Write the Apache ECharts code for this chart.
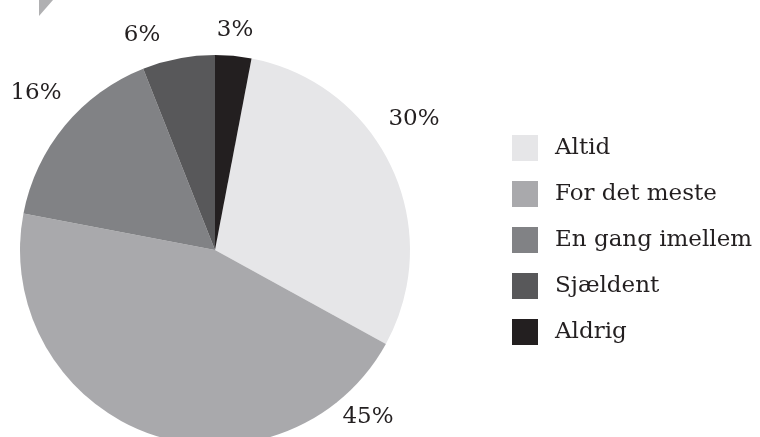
<!DOCTYPE html>
<html>
<head>
<meta charset="utf-8">
<script src="https://cdn.jsdelivr.net/npm/echarts@6/dist/echarts.min.js"></script>
<style>
  html, body { margin: 0; padding: 0; background: #fff; }
  #main { width: 760px; height: 437px; }
</style>
</head>
<body>
<div id="main"></div>
<script>
// svar-kategorier og andele (%)
const categories = ["Altid", "For det meste", "En gang imellem", "Sjældent", "Aldrig"];
const values = [30, 45, 16, 6, 3];
const colors = ["#e6e6e8", "#a9a9ac", "#818285", "#58585a", "#231f20"];

// hvor procent-teksten står (som i originalen)
const labelPos = [[414, 119], [368, 417], [36, 93], [142, 35], [235, 30]];

const font = "DejaVu Serif";
const chart = echarts.init(document.getElementById("main"));

chart.setOption({
  animation: false,
  color: colors,
  graphic: [
    {
      type: "polygon",
      shape: { points: [[39, 0], [53, 0], [39, 16]] },
      style: { fill: "#b0b0b2" },
    },
  ],
  legend: {
    orient: "vertical",
    left: 507,
    top: 130,
    itemWidth: 26,
    itemHeight: 26,
    itemGap: 20,
    icon: "rect",
    data: categories,
    textStyle: {
      fontFamily: font,
      fontSize: 23,
      color: "#231f20",
      padding: [0, 0, 0, 12],
    },
  },
  series: [
    {
      type: "pie",
      center: [215, 250],
      radius: 195,
      startAngle: 90 - values[4] * 3.6,
      clockwise: true,
      itemStyle: { borderWidth: 0 },
      label: {
        show: true,
        position: "outside",
        formatter: "{c}%",
        fontFamily: font,
        fontSize: 23,
        color: "#231f20",
        overflow: "none",
        width: null,
      },
      labelLine: { show: false },
      labelLayout: (p) => ({
        x: labelPos[p.dataIndex][0],
        y: labelPos[p.dataIndex][1],
        align: "center",
        verticalAlign: "middle",
      }),
      emphasis: { disabled: true },
      data: categories.map((name, i) => ({ name: name, value: values[i] })),
    },
  ],
});
</script>
</body>
</html>
